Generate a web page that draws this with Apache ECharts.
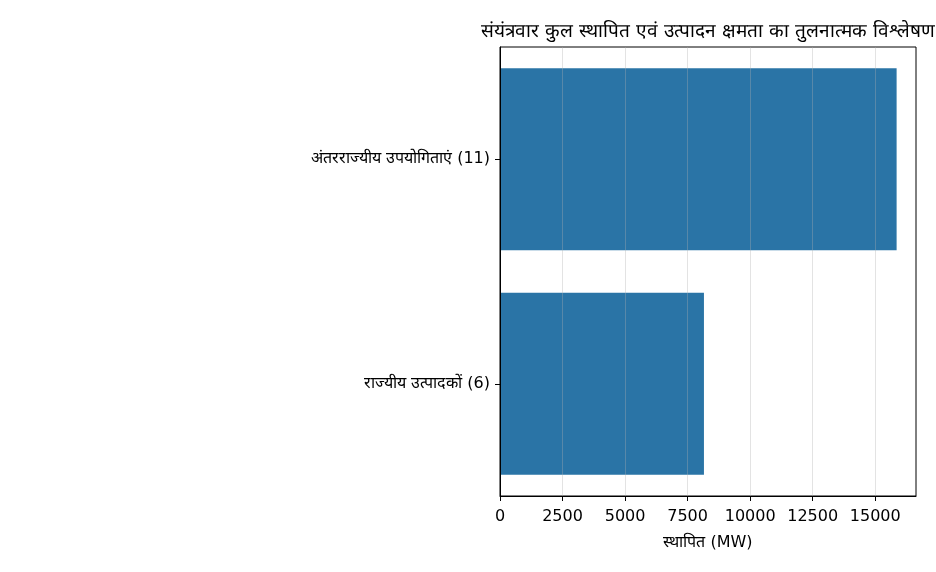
<!DOCTYPE html>
<html>
<head>
<meta charset="utf-8">
<script src="https://cdn.jsdelivr.net/npm/echarts@6/dist/echarts.min.js"></script>
<style>
  html, body { margin: 0; padding: 0; background: #fff; }
  #chart { width: 936px; height: 572px; }
</style>
</head>
<body>
<div id="chart"></div>
<script>
var dom = document.getElementById('chart');
var myChart = echarts.init(dom, null, { renderer: 'canvas' });

// data
let titleText = 'संयंत्रवार कुल स्थापित एवं उत्पादन क्षमता का तुलनात्मक विश्लेषण';
let categories = ['अंतरराज्यीय उपयोगिताएं (11)', 'राज्यीय उत्पादकों (6)'];
let capacity = [15855, 8153];
let xTicks = [0, 2500, 5000, 7500, 10000, 12500, 15000];
let xMax = 16630;
let xName = 'स्थापित (MW)';

let font = 'DejaVu Sans';

var option = {
    animation: false,
    backgroundColor: '#fff',
    title: {
        text: titleText,
        left: 708,
        top: 23,
        textAlign: 'center',
        padding: 0,
        textStyle: {
            fontFamily: font,
            fontSize: 19,
            fontWeight: 'normal',
            color: '#000'
        }
    },
    grid: {
        left: 500,
        right: 20,
        top: 47,
        bottom: 76,
        show: true,
        borderColor: '#000',
        borderWidth: 1,
        containLabel: false
    },
    xAxis: {
        type: 'value',
        min: 0,
        max: xMax,
        z: 10,
        name: xName,
        nameLocation: 'middle',
        nameGap: 39,
        nameTextStyle: { fontFamily: font, fontSize: 16, color: '#000' },
        axisLine: { show: true, lineStyle: { color: '#000', width: 1 } },
        axisTick: { show: true, length: 5, customValues: xTicks, lineStyle: { color: '#000' } },
        axisLabel: {
            customValues: xTicks,
            margin: 13,
            fontFamily: font,
            fontSize: 16,
            color: '#000',
            formatter: function (v) { return String(v); }
        },
        splitLine: { show: true, lineStyle: { color: 'rgba(176,176,176,0.35)', width: 1 } }
    },
    yAxis: {
        type: 'category',
        data: categories,
        inverse: true,
        z: 10,
        axisLine: { show: true, lineStyle: { color: '#000', width: 1 } },
        axisTick: { show: true, alignWithLabel: true, length: 5, lineStyle: { color: '#000' } },
        axisLabel: { margin: 10, fontFamily: font, fontSize: 16, color: '#000' },
        splitLine: { show: false }
    },
    series: [
        {
            type: 'bar',
            data: capacity,
            barWidth: 182,
            itemStyle: { color: '#2a74a6' }
        }
    ]
};

myChart.setOption(option);
window.addEventListener('resize', myChart.resize);
</script>
</body>
</html>
